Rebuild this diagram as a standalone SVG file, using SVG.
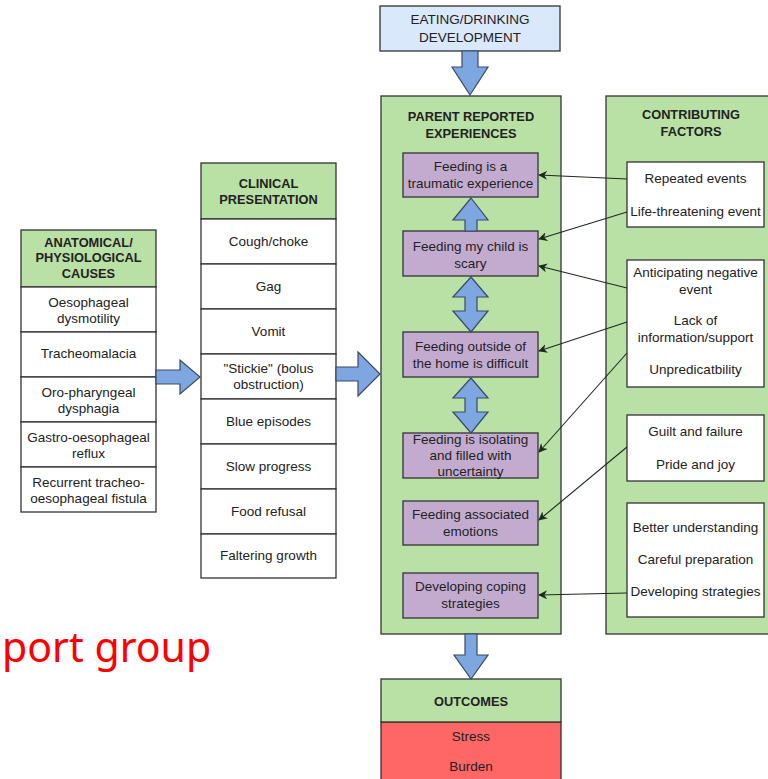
<svg xmlns="http://www.w3.org/2000/svg" width="768" height="779" viewBox="0 0 768 779">
<defs>
<style>
.box{stroke:#333;stroke-width:1.3}
.g{fill:#b9e0a5}
.w{fill:#fff}
.p{fill:#c3abd0}
.b{fill:#dae8fc}
.r{fill:#ff6666}
.ba{fill:#7ea6e0;stroke:#3a4a66;stroke-width:1.2}
.t{font-family:"Liberation Sans",Arial,sans-serif;font-size:13.5px;fill:#222;text-anchor:middle}
.h{font-family:"Liberation Sans",Arial,sans-serif;font-size:12.8px;font-weight:bold;fill:#222;text-anchor:middle}
.ln{stroke:#1e2a1e;stroke-width:1.1;fill:none;marker-end:url(#ah)}
</style>
<marker id="ah" viewBox="0 0 10 10" refX="9" refY="5" markerWidth="9" markerHeight="9" markerUnits="userSpaceOnUse" orient="auto">
<path d="M0,0 L10,5 L0,10 L3,5 Z" fill="#1e2a1e"/>
</marker>
</defs>
<rect width="768" height="779" fill="#fff"/>

<text x="2" y="662" font-family="'Noto Sans','Liberation Sans',sans-serif" font-size="41" fill="#ff0000">port group</text>

<g id="anatomical">
<rect class="box g" x="21" y="230" width="135" height="57"/>
<text class="h" x="88.5" y="247">ANATOMICAL/</text>
<text class="h" x="88.5" y="262">PHYSIOLOGICAL</text>
<text class="h" x="88.5" y="278">CAUSES</text>
<rect class="box w" x="21" y="287" width="135" height="45"/>
<text class="t" x="88.5" y="307">Oesophageal</text>
<text class="t" x="88.5" y="323">dysmotility</text>
<rect class="box w" x="21" y="332" width="135" height="45"/>
<text class="t" x="88.5" y="358">Tracheomalacia</text>
<rect class="box w" x="21" y="377" width="135" height="45"/>
<text class="t" x="88.5" y="397">Oro-pharyngeal</text>
<text class="t" x="88.5" y="413">dysphagia</text>
<rect class="box w" x="21" y="422" width="135" height="45"/>
<text class="t" x="88.5" y="442">Gastro-oesophageal</text>
<text class="t" x="88.5" y="458">reflux</text>
<rect class="box w" x="21" y="467" width="135" height="45"/>
<text class="t" x="88.5" y="487">Recurrent tracheo-</text>
<text class="t" x="88.5" y="503">oesophageal fistula</text>
</g>

<g id="clinical">
<rect class="box g" x="201" y="163" width="135" height="56"/>
<text class="h" x="268.5" y="188">CLINICAL</text>
<text class="h" x="268.5" y="204">PRESENTATION</text>
<rect class="box w" x="201" y="219" width="135" height="45"/>
<text class="t" x="268.5" y="246">Cough/choke</text>
<rect class="box w" x="201" y="264" width="135" height="45"/>
<text class="t" x="268.5" y="291">Gag</text>
<rect class="box w" x="201" y="309" width="135" height="45"/>
<text class="t" x="268.5" y="336">Vomit</text>
<rect class="box w" x="201" y="354" width="135" height="45"/>
<text class="t" x="268.5" y="373">"Stickie" (bolus</text>
<text class="t" x="268.5" y="389">obstruction)</text>
<rect class="box w" x="201" y="399" width="135" height="45"/>
<text class="t" x="268.5" y="426">Blue episodes</text>
<rect class="box w" x="201" y="444" width="135" height="45"/>
<text class="t" x="268.5" y="471">Slow progress</text>
<rect class="box w" x="201" y="489" width="135" height="45"/>
<text class="t" x="268.5" y="516">Food refusal</text>
<rect class="box w" x="201" y="534" width="135" height="44"/>
<text class="t" x="268.5" y="560">Faltering growth</text>
</g>

<g id="eating">
<rect class="box b" x="380" y="6" width="180" height="45"/>
<text class="t" x="470" y="24" font-size="14">EATING/DRINKING</text>
<text class="t" x="470" y="42" font-size="14">DEVELOPMENT</text>
</g>

<g id="parent">
<rect class="box g" x="381" y="96" width="180" height="538"/>
<text class="h" x="471" y="121">PARENT REPORTED</text>
<text class="h" x="471" y="138">EXPERIENCES</text>
</g>

<g id="traumatic">
<rect class="box p" x="403" y="153" width="135" height="44"/>
<text class="t" x="470.5" y="171">Feeding is a</text>
<text class="t" x="470.5" y="188">traumatic experience</text>
</g>
<g id="scary">
<rect class="box p" x="403" y="231" width="135" height="45"/>
<text class="t" x="470.5" y="251">Feeding my child is</text>
<text class="t" x="470.5" y="268">scary</text>
</g>
<g id="outside">
<rect class="box p" x="403" y="332" width="135" height="45"/>
<text class="t" x="470.5" y="351">Feeding outside of</text>
<text class="t" x="470.5" y="368">the home is difficult</text>
</g>
<g id="isolating">
<rect class="box p" x="403" y="433" width="135" height="45"/>
<text class="t" x="470.5" y="444">Feeding is isolating</text>
<text class="t" x="470.5" y="460">and filled with</text>
<text class="t" x="470.5" y="476">uncertainty</text>
</g>
<g id="emotions">
<rect class="box p" x="403" y="501" width="135" height="44"/>
<text class="t" x="470.5" y="519">Feeding associated</text>
<text class="t" x="470.5" y="536">emotions</text>
</g>
<g id="coping">
<rect class="box p" x="403" y="573" width="135" height="45"/>
<text class="t" x="470.5" y="591">Developing coping</text>
<text class="t" x="470.5" y="608">strategies</text>
</g>

<g id="contributing">
<rect class="box g" x="606" y="96" width="172" height="538"/>
<text class="h" x="691" y="119">CONTRIBUTING</text>
<text class="h" x="691" y="136">FACTORS</text>
</g>
<g id="cf-events">
<rect class="box w" x="627" y="162" width="137" height="65"/>
<text class="t" x="695.5" y="183">Repeated events</text>
<text class="t" x="695.5" y="216">Life-threatening event</text>
</g>
<g id="cf-anticipating">
<rect class="box w" x="627" y="260" width="137" height="127"/>
<text class="t" x="695.5" y="277">Anticipating negative</text>
<text class="t" x="695.5" y="294">event</text>
<text class="t" x="695.5" y="325">Lack of</text>
<text class="t" x="695.5" y="342">information/support</text>
<text class="t" x="695.5" y="374">Unpredicatbility</text>
</g>
<g id="cf-guilt">
<rect class="box w" x="627" y="415" width="137" height="66"/>
<text class="t" x="695.5" y="436">Guilt and failure</text>
<text class="t" x="695.5" y="469">Pride and joy</text>
</g>
<g id="cf-strategies">
<rect class="box w" x="627" y="503" width="137" height="114"/>
<text class="t" x="695.5" y="532">Better understanding</text>
<text class="t" x="695.5" y="564">Careful preparation</text>
<text class="t" x="695.5" y="596">Developing strategies</text>
</g>

<g id="outcomes">
<rect class="box r" x="381" y="722" width="180" height="70"/>
<rect class="box g" x="381" y="679" width="180" height="43"/>
<text class="h" x="471" y="706">OUTCOMES</text>
<text class="t" x="471" y="741" font-size="13">Stress</text>
<text class="t" x="471" y="771" font-size="13">Burden</text>
</g>

<g id="connectors">
<path class="ba" d="M156,370 L180,370 L180,360 L200,377 L180,394 L180,384 L156,384 Z"/>
<path class="ba" d="M336,367 L358,367 L358,352 L380,374 L358,396 L358,381 L336,381 Z"/>
<path class="ba" d="M462,51 L478,51 L478,67 L488,67 L470,95 L452,67 L462,67 Z"/>
<path class="ba" d="M465,634 L477,634 L477,655 L488,655 L471,679 L454,655 L465,655 Z"/>
<path class="ba" d="M471,198 L488,220 L477,220 L477,231 L465,231 L465,220 L453,220 Z"/>
<path class="ba" d="M471,277 L488,297 L477,297 L477,311 L488,311 L471,332 L453,311 L465,311 L465,297 L453,297 Z"/>
<path class="ba" d="M471,378 L488,398 L477,398 L477,412 L488,412 L471,433 L453,412 L465,412 L465,398 L453,398 Z"/>
<path class="ln" d="M627,179 L539,175"/>
<path class="ln" d="M627,212 L539,239"/>
<path class="ln" d="M627,288 L539,266"/>
<path class="ln" d="M627,322 L539,351"/>
<path class="ln" d="M627,353 L539,452"/>
<path class="ln" d="M627,447 L539,520"/>
<path class="ln" d="M627,593 L539,595"/>
</g>
</svg>
